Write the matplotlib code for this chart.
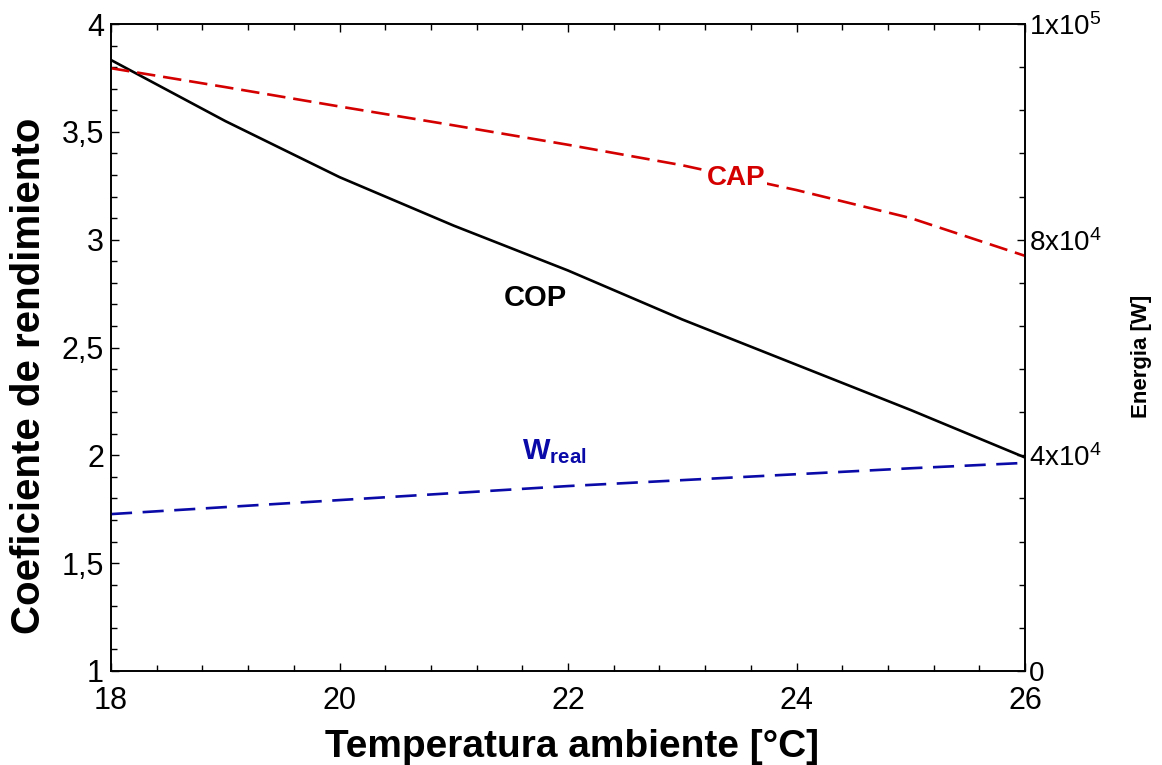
import numpy as np
import matplotlib.pyplot as plt
from matplotlib.ticker import MultipleLocator, FixedLocator, FuncFormatter

plt.rcParams['font.family'] = ['Liberation Sans', 'DejaVu Sans']
plt.rcParams['mathtext.fontset'] = 'custom'
plt.rcParams['mathtext.rm'] = 'Liberation Sans'
plt.rcParams['mathtext.bf'] = 'Liberation Sans:bold'

# ambient temperature [C]
temp = [18, 19, 20, 21, 22, 23, 24, 25, 26]
# coefficient of performance
cop = [3.833, 3.55, 3.29, 3.065, 2.857, 2.63, 2.42, 2.21, 1.99]
# cooling capacity and real work [W]
cap = [111800, 108300, 104700, 101200, 97600, 93800, 89200, 84000, 77000]
w_real = [29100, 30400, 31700, 33000, 34300, 35400, 36500, 37600, 38600]

W, H = 1162, 765
fig = plt.figure(figsize=(W / 100, H / 100), dpi=100)
ax = fig.add_axes([111 / W, 1 - 671 / H, 914 / W, 647 / H])
ax2 = ax.twinx()

ax.plot(temp, cop, color='black', lw=1.9, zorder=3)
ax2.plot(temp, cap, color='#d40000', lw=1.9, dashes=(7, 3))
ax2.plot(temp, w_real, color='#0a0aa8', lw=1.9, dashes=(8, 4))

ax.set_xlim(18, 26)
ax.set_ylim(1, 4)
ax2.set_ylim(0, 120000)

ax.xaxis.set_major_locator(MultipleLocator(2))
ax.xaxis.set_minor_locator(MultipleLocator(0.4))
ax.yaxis.set_major_locator(MultipleLocator(0.5))
ax.yaxis.set_minor_locator(MultipleLocator(0.1))
ax.yaxis.set_major_formatter(FuncFormatter(lambda v, p: ('%g' % v).replace('.', ',')))

ax2.yaxis.set_major_locator(FixedLocator([0, 40000, 80000, 120000]))
ax2.yaxis.set_minor_locator(MultipleLocator(8000))


def energy_fmt(v, p):
    if v == 0:
        return '0'
    e = int(np.floor(np.log10(v)))
    m = v / 10**e
    return r'$\mathregular{%.0fx10^{%d}}$' % (m, e)


ax2.yaxis.set_major_formatter(FuncFormatter(energy_fmt))

ax.tick_params(which='both', direction='in', top=True, right=False, labelsize=22, width=1)
ax.tick_params(which='major', length=6)
ax.tick_params(which='minor', length=4)
ax.tick_params(axis='x', pad=11)
ax.tick_params(axis='y', pad=5)
ax2.tick_params(which='both', direction='in', labelsize=20, width=1, pad=3)
ax2.tick_params(which='major', length=6)
ax2.tick_params(which='minor', length=4)

for a in (ax, ax2):
    for s in a.spines.values():
        s.set_linewidth(1.2)

# axis titles placed by hand
fig.text(572 / W, 1 - 757 / H, 'Temperatura ambiente [°C]', fontsize=28,
         fontweight='bold', ha='center', va='baseline')
fig.text(29 / W, 1 - 376 / H, 'Coeficiente de rendimiento', fontsize=29,
         fontweight='bold', rotation=90, ha='center', va='center')
fig.text(1141 / W, 1 - 356 / H, 'Energia [W]', fontsize=16,
         fontweight='bold', rotation=90, ha='center', va='center')

ax2.text(23.47, 3.286, 'CAP', transform=ax.transData, color='#d40000',
         fontsize=20, fontweight='bold', ha='center', va='center', zorder=5,
         bbox=dict(facecolor='white', edgecolor='none', pad=1))
ax.text(21.71, 2.73, 'COP', color='black', fontsize=21, fontweight='bold',
        ha='center', va='center')
ax.text(21.88, 2.016, r'$\mathbf{W_{real}}$', color='#0a0aa8', fontsize=21,
        ha='center', va='center')

fig.savefig('out.png', dpi=100)
